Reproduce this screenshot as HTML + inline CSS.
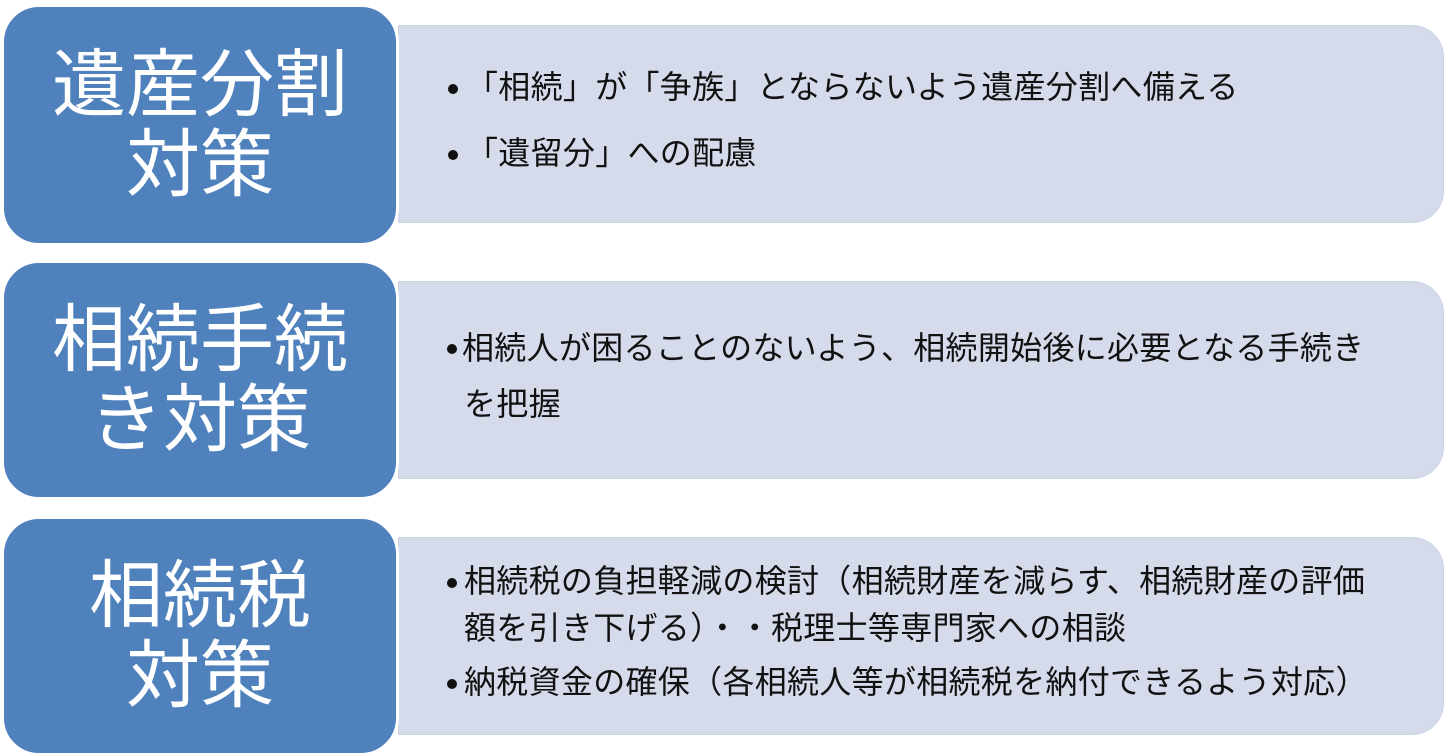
<!DOCTYPE html>
<html><head><meta charset="utf-8"><style>
body{margin:0;width:1450px;height:754px;background:#fff;position:relative;overflow:hidden;font-family:"Liberation Sans","Noto Sans CJK JP",sans-serif}
.l{position:absolute;left:398px;width:1046px;height:198px;background:#d5dbea;border:1px solid #cdd4e4;border-radius:0 32px 32px 0;box-sizing:border-box}
.b{position:absolute;left:1px;width:398px;background:#4f81bd;border:3px solid #fff;border-radius:38px;box-sizing:border-box;color:#fff;font-size:74px;text-align:center;line-height:80px;display:flex;flex-direction:column;justify-content:center}
.t{position:absolute;font-size:32px;color:#111;white-space:nowrap;line-height:36px;letter-spacing:0.3px}
.d{position:absolute;width:10px;height:10px;border-radius:50%;background:#111}
</style></head><body>
<div class="l" style="top:25px"></div>
<div class="l" style="top:281px"></div>
<div class="l" style="top:537px"></div>
<div class="b" style="top:4px;height:242px">遺産分割<br>対策</div>
<div class="b" style="top:260px;height:240px">相続手続<br>き対策</div>
<div class="b" style="top:516px;height:240px">相続税<br>対策</div>

<div class="d" style="left:448px;top:84px"></div>
<div class="t" style="left:466px;top:69px">「相続」が「争族」とならないよう遺産分割へ備える</div>
<div class="d" style="left:448px;top:150px"></div>
<div class="t" style="left:466px;top:135px">「遺留分」への配慮</div>

<div class="d" style="left:447px;top:344px"></div>
<div class="t" style="left:462px;top:330px">相続人が困ることのないよう、相続開始後に必要となる手続き</div>
<div class="t" style="left:464px;top:386px">を把握</div>

<div class="d" style="left:447px;top:578px"></div>
<div class="t" style="left:464px;top:563px">相続税の負担軽減の検討（相続財産を減らす、相続財産の評価</div>
<div class="t" style="left:464px;top:610px">額を引き下げる）・・税理士等専門家への相談</div>
<div class="d" style="left:447px;top:679px"></div>
<div class="t" style="left:464px;top:664px">納税資金の確保（各相続人等が相続税を納付できるよう対応）</div>
</body></html>
